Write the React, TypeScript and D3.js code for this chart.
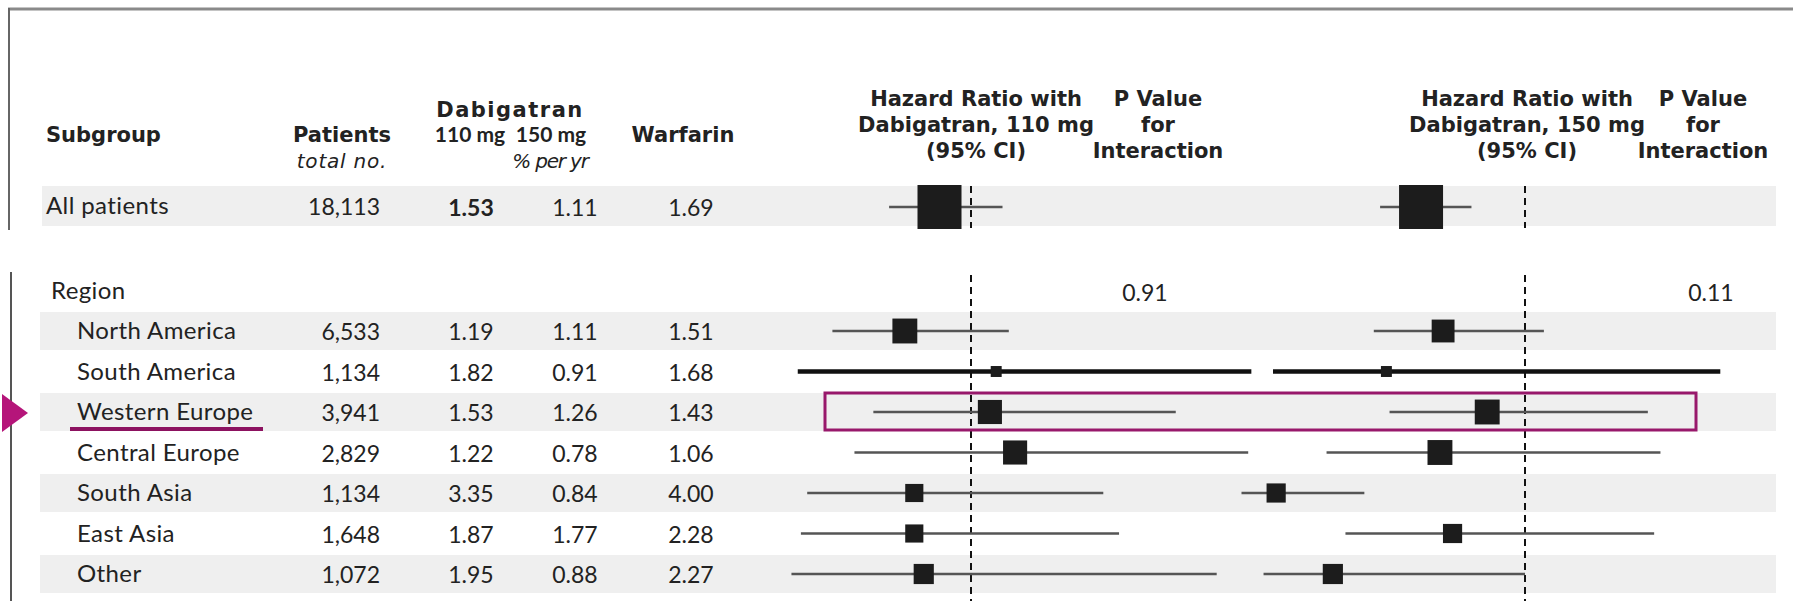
import React from "react";
import * as d3 from "d3";

// ---------- data ----------
const categories = ["North America", "South America", "Western Europe", "Central Europe", "South Asia", "East Asia", "Other"];
const patients = ["6,533", "1,134", "3,941", "2,829", "1,134", "1,648", "1,072"];
const rate110 = ["1.19", "1.82", "1.53", "1.22", "3.35", "1.87", "1.95"];
const rate150 = ["1.11", "0.91", "1.26", "0.78", "0.84", "1.77", "0.88"];
const rateWarfarin = ["1.51", "1.68", "1.43", "1.06", "4.00", "2.28", "2.27"];

const hr110 = [0.79, 1.08, 1.06, 1.14, 0.82, 0.82, 0.85];
const lo110 = [0.56, 0.45, 0.69, 0.63, 0.48, 0.46, 0.43];
const hi110 = [1.12, 1.89, 1.65, 1.88, 1.42, 1.47, 1.78];
const weight110 = [32, 6.2, 30, 30, 17, 17, 21];

const hr150 = [0.74, 0.56, 0.88, 0.73, 0.21, 0.77, 0.39];
const lo150 = [0.52, 0.20, 0.57, 0.37, 0.10, 0.43, 0.17];
const hi150 = [1.06, 1.62, 1.39, 1.43, 0.49, 1.41, 1.00];
const weight150 = [27, 6.2, 32, 32, 19, 19, 21];

const allLabel = "All patients";
const allPatients = "18,113";
const allRates = ["1.53", "1.11", "1.69"];
const allHr110 = [0.90, 0.74, 1.10];
const allHr150 = [0.67, 0.54, 0.83];
const allWeight = 100;

const groupLabel = "Region";
const pInteraction = ["0.91", "0.11"];
const highlighted = "Western Europe";
const emphasizedLine = "South America";

// ---------- layout ----------
const W = 1793;
const H = 601;
const BODY = "Lato, 'Open Sans', sans-serif";
const HEAD = "'DejaVu Sans', Verdana, sans-serif";
const TXT = "#222";

const x110 = d3.scaleLinear().domain([0, 2]).range([971 - 315, 971 + 315]);
const x150 = d3.scaleLinear().domain([0, 2]).range([1525 - 315, 1525 + 315]);
const sizeScale = d3.scaleSqrt().domain([0, 100]).range([0, 44]);
const yRow = d3.scalePoint<string>().domain([groupLabel, ...categories]).range([290.5, 574]).padding(0);
const yAll = 206;

const colPatients = 380;
const col110 = 471;
const col150 = 575;
const colWarf = 691;

function ForestMark({ x, hr, lo, hi, w, y, emph }: any) {
  const s = sizeScale(w);
  return (
    <g>
      <line x1={x(lo)} x2={x(hi)} y1={y} y2={y} stroke={emph ? "#111" : "#555"} strokeWidth={emph ? 4.5 : 2.6} />
      <rect x={x(hr) - s / 2} y={y - s / 2} width={s} height={s} fill="#1c1c1c" />
    </g>
  );
}

export default function App() {
  const rowBands = categories.filter((_, i) => i % 2 === 0);
  const yWE = yRow(highlighted)!;
  const dash = "7,5";
  const headBlocks = [
    { cx: 976, lines: ["Hazard Ratio with", "Dabigatran, 110 mg", "(95% CI)"] },
    { cx: 1158, lines: ["P Value", "for", "Interaction"] },
    { cx: 1527, lines: ["Hazard Ratio with", "Dabigatran, 150 mg", "(95% CI)"] },
    { cx: 1703, lines: ["P Value", "for", "Interaction"] },
  ];
  return (
    <svg width={W} height={H} style={{ position: "absolute", left: 0, top: 0, background: "#fff" }} fontFamily={BODY}>
      <rect width={W} height={H} fill="#fff" />
      {/* frame */}
      <line x1={8} x2={W} y1={9} y2={9} stroke="#8a8a8a" strokeWidth={3} />
      <line x1={9} x2={9} y1={8} y2={230} stroke="#666" strokeWidth={2} />
      <line x1={11} x2={11} y1={272} y2={H} stroke="#555" strokeWidth={2} />

      {/* bands */}
      <rect x={42} y={yAll - 20} width={1734} height={40} fill="#efefef" />
      {rowBands.map((c) => (
        <rect key={c} x={40} y={yRow(c)! - 19} width={1736} height={38} fill="#efefef" />
      ))}

      {/* headers */}
      <g fill={TXT} fontWeight={700} fontSize={21} fontFamily={HEAD}>
        <text x={46} y={142}>Subgroup</text>
        <text x={342} y={142} textAnchor="middle">Patients</text>
        <text x={510} y={117} textAnchor="middle" letterSpacing={1.5}>Dabigatran</text>
        <text x={683} y={142} textAnchor="middle">Warfarin</text>
        {headBlocks.map((h, i) =>
          h.lines.map((l, j) => (
            <text key={`${i}-${j}`} x={h.cx} y={106 + j * 26} textAnchor="middle">{l}</text>
          ))
        )}
      </g>
      <g fill={TXT} fontWeight={700} fontSize={21} fontFamily={BODY}>
        <text x={470} y={142} textAnchor="middle">110 mg</text>
        <text x={551} y={142} textAnchor="middle">150 mg</text>
      </g>
      <g fill={TXT} fontStyle="italic" fontSize={20} fontFamily={HEAD}>
        <text x={342} y={168} textAnchor="middle" letterSpacing={0.8}>total no.</text>
        <text x={550} y={168} textAnchor="middle" letterSpacing={-1.2}>% per yr</text>
      </g>

      {/* reference lines */}
      {[x110, x150].map((x, i) => (
        <g key={i} stroke="#111" strokeWidth={2} strokeDasharray={dash}>
          <line x1={x(1)} x2={x(1)} y1={yAll - 20} y2={yAll + 22} />
          <line x1={x(1)} x2={x(1)} y1={275} y2={H} />
        </g>
      ))}

      {/* all patients row */}
      <g fill={TXT} fontSize={23}>
        <text x={46} y={yAll + 8} fontSize={24} letterSpacing={0.4}>{allLabel}</text>
        <text x={colPatients} y={yAll + 9} textAnchor="end">{allPatients}</text>
        <text x={col110} y={yAll + 10} textAnchor="middle" fontWeight={700}>{allRates[0]}</text>
        <text x={col150} y={yAll + 10} textAnchor="middle">{allRates[1]}</text>
        <text x={colWarf} y={yAll + 10} textAnchor="middle">{allRates[2]}</text>
      </g>
      <ForestMark x={x110} hr={allHr110[0]} lo={allHr110[1]} hi={allHr110[2]} w={allWeight} y={yAll + 1} />
      <ForestMark x={x150} hr={allHr150[0]} lo={allHr150[1]} hi={allHr150[2]} w={allWeight} y={yAll + 1} />

      {/* group */}
      <g fill={TXT} fontSize={23}>
        <text x={51} y={yRow(groupLabel)! + 8} fontSize={24} letterSpacing={0.4}>{groupLabel}</text>
        <text x={1145} y={yRow(groupLabel)! + 10} textAnchor="middle">{pInteraction[0]}</text>
        <text x={1711} y={yRow(groupLabel)! + 10} textAnchor="middle">{pInteraction[1]}</text>
      </g>

      {categories.map((c, i) => {
        const y = yRow(c)!;
        const emph = c === emphasizedLine;
        return (
          <g key={c}>
            <g fill={TXT} fontSize={23}>
              <text x={77} y={y + 8} fontSize={24} letterSpacing={0.4}>{c}</text>
              <text x={colPatients} y={y + 9} textAnchor="end">{patients[i]}</text>
              <text x={col110} y={y + 9} textAnchor="middle">{rate110[i]}</text>
              <text x={col150} y={y + 9} textAnchor="middle">{rate150[i]}</text>
              <text x={colWarf} y={y + 9} textAnchor="middle">{rateWarfarin[i]}</text>
            </g>
            <ForestMark x={x110} hr={hr110[i]} lo={lo110[i]} hi={hi110[i]} w={weight110[i]} y={y} emph={emph} />
            <ForestMark x={x150} hr={hr150[i]} lo={lo150[i]} hi={hi150[i]} w={weight150[i]} y={y} emph={emph} />
          </g>
        );
      })}

      {/* highlight annotation */}
      <rect x={825} y={yWE - 19} width={871} height={37} fill="none" stroke="#98186b" strokeWidth={3} />
      <line x1={70} x2={263} y1={yWE + 17} y2={yWE + 17} stroke="#8c1260" strokeWidth={4} />
      <polygon points={`2,${yWE - 18} 28,${yWE + 1} 2,${yWE + 20}`} fill="#b5157a" />
    </svg>
  );
}
